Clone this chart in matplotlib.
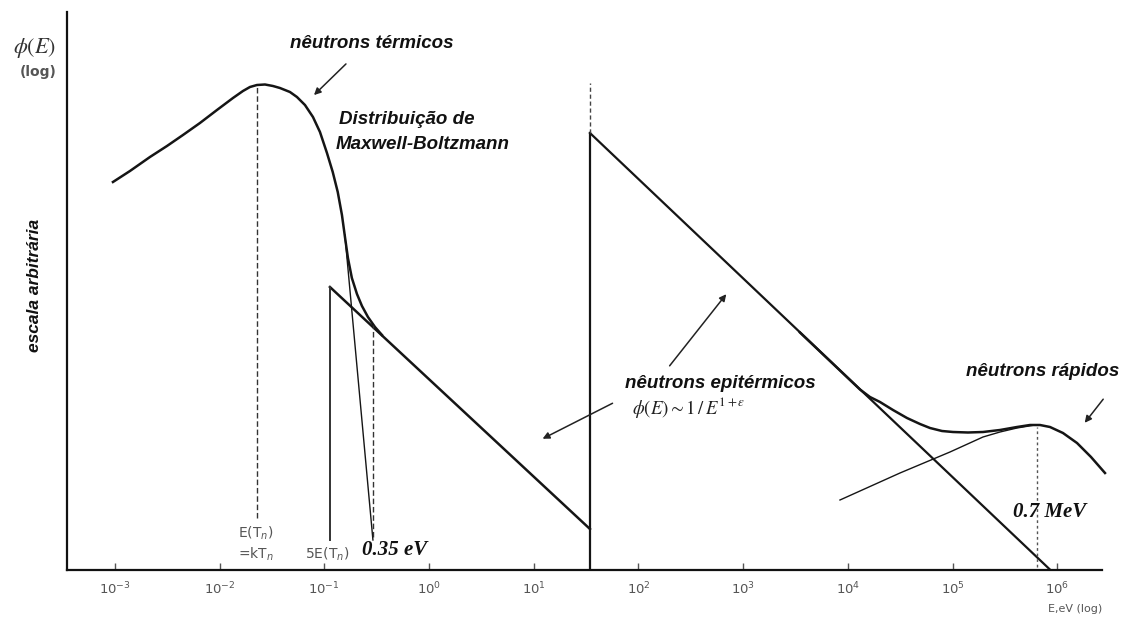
import matplotlib
matplotlib.use("Agg")
import matplotlib.pyplot as plt

# ---------------- data (E in eV, phi in arbitrary units) ----------------
thermal_E = [9.57e-4, 1.391e-3, 2.159e-3, 3.139e-3, 4.462e-3, 6.483e-3, 9.423e-3, 0.01340,
             0.01669, 0.01947, 0.02271, 0.02708, 0.03229, 0.03766, 0.04692, 0.05473,
             0.06527, 0.07783, 0.09078, 0.1059, 0.1202, 0.1342, 0.1472, 0.1573, 0.1679,
             0.1831, 0.2048, 0.2286, 0.2608, 0.3043, 0.3549]
thermal_phi = [388, 399, 413, 424, 435, 447, 460, 472, 479, 483, 485, 485.5, 484, 482,
               478, 473, 465, 453, 438, 417, 398, 378, 355, 333, 312, 292, 276, 264,
               253, 243, 235]

maxwell_tail_E = [0.157, 0.291]
maxwell_tail_phi = [335, 30]

epi_low_E = [0.113, 34.4]
epi_low_phi = [283, 41]

epi_high_E = [34.4, 8.6e5]
epi_high_phi = [437, 0]

fast_E = [3487, 5414, 8405, 13050, 16260, 20260, 26970, 36680, 48840, 60830, 79200,
          100900, 140300, 195100, 283600, 412200, 548700, 683700, 851800, 1.133e6,
          1.543e6, 2.099e6, 2.855e6]
fast_phi = [237.5, 218.5, 199.5, 180.5, 173, 168, 160, 152, 146, 142, 139, 138, 137.5,
            138, 140, 143, 145, 145, 143, 137, 127, 113, 97]

fission_E = [8405, 31450, 94450, 195100, 283600, 412200, 612500]
fission_phi = [70, 97, 118, 133, 138, 142, 145]

E_thermal_peak = 0.0227   # E(Tn) = kTn
E_5kT = 0.113             # 5E(Tn)
E_cut = 0.291             # 0.35 eV
E_jump = 34.4
E_fast_peak = 6.4e5       # 0.7 MeV

tick_exponents = [-3, -2, -1, 0, 1, 2, 3, 4, 5, 6]

# ---------------- figure ----------------
W, H = 1132, 619
fig = plt.figure(figsize=(W / 100, H / 100), dpi=100)
ax = fig.add_axes([67 / W, (H - 570) / H, 1035 / W, 558 / H])
ax.set_xscale('log')
ax.set_xlim(10 ** -3.458, 10 ** 6.427)
ax.set_ylim(0, 558)
for s in ['top', 'right']:
    ax.spines[s].set_visible(False)
for s in ['left', 'bottom']:
    ax.spines[s].set_linewidth(1.6)
    ax.spines[s].set_color('#111')

ax.set_xticks([10.0 ** e for e in tick_exponents])
ax.set_xticklabels([r'$10^{%d}$' % e for e in tick_exponents], color='#555', fontsize=9.5)
ax.xaxis.set_minor_locator(matplotlib.ticker.NullLocator())
ax.tick_params(axis='x', direction='in', length=5, width=1, color='#555', pad=8)
ax.set_yticks([])

lc = '#151515'
# curves
ax.plot(thermal_E, thermal_phi, color=lc, lw=1.8, solid_joinstyle='round')
ax.plot(maxwell_tail_E, maxwell_tail_phi, color=lc, lw=1.0)
ax.plot(epi_low_E, epi_low_phi, color=lc, lw=1.8)
ax.plot(epi_high_E, epi_high_phi, color=lc, lw=1.6)
ax.plot(fast_E, fast_phi, color=lc, lw=1.8, solid_joinstyle='round', clip_on=False)
ax.plot(fission_E, fission_phi, color=lc, lw=1.0, solid_joinstyle='round')

# vertical lines
ax.plot([E_thermal_peak] * 2, [52, 485], color='#333', lw=1.0, ls=(0, (4, 2)))
ax.plot([E_5kT] * 2, [30, 283], color='#333', lw=1.4)
ax.plot([E_cut] * 2, [33, 245], color='#333', lw=1.0, ls=(0, (4, 2)))
ax.plot([E_jump] * 2, [0, 437], color=lc, lw=1.6)
ax.plot([E_jump] * 2, [437, 487], color='#444', lw=1.0, ls=(0, (3, 2)))
ax.plot([E_fast_peak] * 2, [3, 143], color='#555', lw=1.0, ls=(0, (2, 2)))

# arrows
ap = dict(arrowstyle='-|>', color='#222', lw=1.1, mutation_scale=10)
ax.annotate('', xy=(0.0762, 473), xytext=(0.168, 508), arrowprops=ap)
ax.annotate('', xy=(716, 278), xytext=(191, 202), arrowprops=ap)
ax.annotate('', xy=(11.5, 130), xytext=(59.7, 168), arrowprops=ap)
ax.annotate('', xy=(1.76e6, 145), xytext=(2.85e6, 173), arrowprops=ap, annotation_clip=False)

# texts (figure pixel positions)
def ftext(x, y, s, **kw):
    fig.text(x / W, 1 - y / H, s, **kw)

sans_bi = dict(family='Liberation Sans', weight='bold', style='italic', color='#111')
serif_bi = dict(family='Liberation Serif', weight='bold', style='italic', color='#111')
small = dict(family='DejaVu Sans', color='#555', fontsize=10)

ftext(35, 48, r'$\phi(E)$', fontsize=16, ha='center', va='center', color='#333',
      math_fontfamily='stix')
ftext(38, 72, '(log)', ha='center', va='center', family='DejaVu Sans', color='#555',
      fontsize=10, weight='bold')
ftext(372, 43, 'nêutrons térmicos', fontsize=13.5, ha='center', va='center', **sans_bi)
ftext(339, 120, 'Distribuição de', fontsize=13.5, ha='left', va='center', **sans_bi)
ftext(336, 145, 'Maxwell-Boltzmann', fontsize=13.5, ha='left', va='center', **sans_bi)
ftext(35, 285, 'escala arbitrária', fontsize=12.5, ha='center', va='center', rotation=90, **sans_bi)
ftext(720, 383, 'nêutrons epitérmicos', fontsize=13.5, ha='center', va='center', **sans_bi)
ftext(632, 408, r'$\phi(E)\sim 1\,/\,E^{1+\epsilon}$', fontsize=13.5, ha='left', va='center',
      color='#222', math_fontfamily='stix')
ftext(1043, 372, 'nêutrons rápidos', fontsize=13.5, ha='center', va='center', **sans_bi)
ftext(1050, 512, '0.7 MeV', fontsize=15, ha='center', va='center', **serif_bi)
ftext(362, 550, '0.35 eV', fontsize=15, ha='left', va='center', **serif_bi)
ftext(256, 533, r'E(T$_n$)', ha='center', va='center', **small)
ftext(256, 554, r'=kT$_n$', ha='center', va='center', **small)
ftext(327, 554, r'5E(T$_n$)', ha='center', va='center', **small)
ftext(1075, 609, 'E,eV (log)', ha='center', va='center', family='DejaVu Sans',
      color='#555', fontsize=8)

fig.savefig('out.png', dpi=100, facecolor='white')
